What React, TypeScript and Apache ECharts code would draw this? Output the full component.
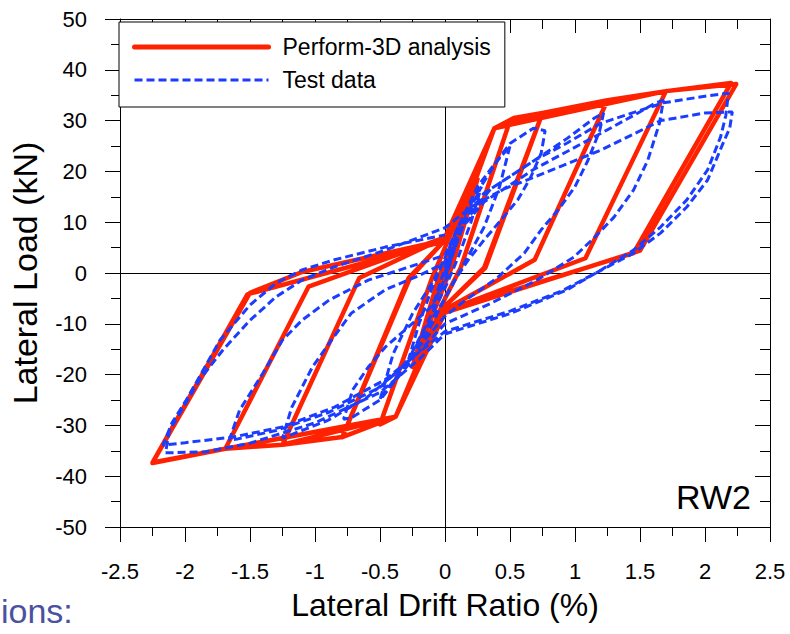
import React, { useEffect, useRef } from "react";
import * as echarts from "echarts";

// Axis ranges (drift %, load kN)
const xMin = -2.5;
const xMax = 2.5;
const xStep = 0.5;
const yMin = -50;
const yMax = 50;
const yStep = 10;

const seriesNames = ["Perform-3D analysis", "Test data"];

// Perform-3D analysis: [drift %, load kN] in load order
const analysisCurve: number[][] = [
  [0, 0], [0.15, 11], [0, 0.5], [-0.15, -11], [0, -0.5],
  [0.25, 18.5], [0.05, 1], [0, -2], [-0.25, -18.5], [-0.05, -1], [0, 2],
  [0.38, 28.5], [0.5, 30], [0.12, 1], [0, -5], [-0.38, -28.3], [-0.5, -29.8], [-0.1, -1], [0, 5],
  [0.38, 28.5], [0.53, 30.5], [0.75, 31.5], [0.3, 1], [0, -6.5], [-0.38, -28.3], [-0.79, -32.3], [-0.28, -1], [0, 6.5],
  [0.38, 28.5], [0.75, 31.5], [0.31, 1], [0, -6.5], [-0.38, -28.3], [-0.79, -32.3], [-0.27, -1], [0, 6.5],
  [0.38, 28.5], [0.75, 31.5], [1.25, 34], [0.69, 2.6], [0, -7.2], [-0.38, -28.3], [-0.79, -32.3], [-1.25, -33.8], [-0.66, -1], [0, 7],
  [0.38, 28.5], [1.25, 34], [1.7, 35.8], [1.08, 2.9], [0, -7.5], [-0.38, -28.3], [-1.25, -33.8], [-1.69, -34.6], [-1.05, -2.7], [0, 7],
  [0.38, 28.5], [1.7, 35.8], [2.2, 37.4], [1.45, 3.9], [0, -7.5], [-0.38, -28.3], [-1.69, -34.6], [-2.25, -37.4], [-1.5, -3.9], [-1.1, 0.2], [0, 6.5],
  [0.38, 28.5], [1.7, 35.8], [2.24, 37.2], [1.5, 4.4], [0, -7.8], [-0.38, -28.3], [-1.69, -34.6], [-2.25, -37.3], [-1.52, -4.2], [0, 6.3],
];

// Test data: [drift %, load kN] in load order
const testCurve: number[][] = [
  [0, 0], [0.05, 4], [0.1, 7], [0.05, 3], [0, -1], [-0.05, -4], [-0.1, -7], [-0.05, -3], [0, 1],
  [0.1, 8], [0.2, 13], [0.28, 17], [0.2, 10], [0.1, 3], [0, -3], [-0.1, -8], [-0.2, -13], [-0.28, -17], [-0.2, -10], [-0.1, -3], [0, 3],
  [0.1, 9], [0.25, 16], [0.4, 22], [0.5, 25], [0.42, 17], [0.3, 9], [0.15, 2], [0, -5], [-0.15, -11], [-0.3, -18], [-0.45, -23], [-0.5, -25], [-0.4, -16], [-0.25, -8], [-0.1, -2], [0, 3],
  [0.1, 9], [0.25, 17], [0.5, 25.5], [0.68, 28.5], [0.77, 28], [0.74, 23.6], [0.66, 18.9], [0.56, 14.4], [0.43, 10.4], [0.3, 6.5], [0.18, 2.6], [0.06, -2], [0, -5],
  [-0.1, -10], [-0.25, -17], [-0.5, -25], [-0.72, -28.5], [-0.78, -28.8], [-0.71, -23], [-0.59, -18.5], [-0.46, -14.6], [-0.28, -10.6], [-0.12, -7], [0, -2], [0.05, 3],
  [0.15, 10], [0.35, 16.5], [0.69, 22.2], [0.94, 26.5], [1.15, 30.5], [1.22, 31.5], [1.19, 28], [1.1, 22.2], [1.0, 17], [0.87, 12.4], [0.74, 8.5], [0.61, 3.9], [0.4, -1], [0.15, -5.5], [0, -8.5],
  [-0.15, -13], [-0.35, -19], [-0.6, -24.5], [-0.9, -29], [-1.2, -32], [-1.25, -32.5], [-1.18, -26.5], [-1.02, -18.5], [-0.89, -13.8], [-0.72, -7.9], [-0.46, -3.3], [-0.2, -0.5], [0, 2],
  [0.1, 8], [0.3, 14], [0.69, 20.5], [1.2, 27.5], [1.45, 31], [1.62, 33.5], [1.68, 34], [1.65, 29.5], [1.56, 22.2], [1.45, 16.3], [1.3, 11], [1.15, 7], [0.99, 3.1], [0.7, -1.5], [0.35, -6], [0, -10],
  [-0.2, -15.5], [-0.5, -22.5], [-0.9, -27.5], [-1.3, -31], [-1.6, -32.7], [-1.66, -32.9], [-1.58, -27], [-1.4, -19.7], [-1.25, -13.2], [-1.1, -9.3], [-0.89, -5.3], [-0.59, -1.4], [-0.3, 1], [0, 3.5],
  [0.1, 9], [0.3, 15.7], [0.69, 22.2], [0.94, 25.6], [1.2, 29.5], [1.68, 33.5], [2.0, 34.8], [2.18, 35.4], [2.16, 31], [2.12, 26.8], [2.02, 20.3], [1.86, 14.4], [1.66, 9.1], [1.45, 4.5], [1.2, 0.6], [0.94, -3.3], [0.5, -8], [0, -12],
  [-0.2, -17], [-0.5, -23.5], [-1.0, -29.5], [-1.5, -33.5], [-1.84, -35.2], [-2.15, -35.4], [-2.12, -31], [-2.04, -27.6], [-1.89, -21.1], [-1.71, -15.2], [-1.5, -9.3], [-1.3, -4.7], [-1.1, -1.4], [-0.85, 1.2], [-0.46, 4.5], [0, 8.9],
  [0.2, 13], [0.45, 16.5], [0.69, 18.9], [1.2, 24.2], [1.66, 30], [2.0, 31.5], [2.21, 31.7], [2.19, 28.5], [2.14, 25.6], [2.02, 18.3], [1.86, 13], [1.66, 7.9], [1.45, 3.9], [1.25, 1.2], [0.9, -3.5], [0.5, -7.5], [0, -11.5],
  [-0.18, -15.2], [-0.46, -21], [-0.85, -26.4], [-1.25, -30.3], [-1.63, -32.3], [-2.0, -33.4], [-2.17, -33.9], [-2.1, -29.5], [-1.99, -25], [-1.73, -13.2], [-1.5, -6.3], [-1.3, -2], [-1.1, 0.6], [-0.85, 2.6], [-0.46, 5.1], [0, 7.5],
];

const FONT = '"Liberation Sans", Arial, sans-serif';
const RED = "#ff2200";
const BLUE = "#1a3dff";

function baseAxis(extra: any) {
  return {
    type: "value",
    axisLine: { show: true, onZero: false, lineStyle: { color: "#000", width: 1 } },
    splitLine: { show: false },
    ...extra,
  };
}

export default function App() {
  const ref = useRef<HTMLDivElement>(null);
  useEffect(() => {
    const chart = echarts.init(ref.current!, null, { renderer: "svg" });
    const option: any = {
      animation: false,
      backgroundColor: "#fff",
      grid: { left: 117, right: 20, top: 19, bottom: 107, containLabel: false },
      legend: {
        orient: "vertical",
        left: 119,
        top: 22,
        padding: [12, 14, 14, 13],
        itemGap: 7,
        itemWidth: 134,
        itemHeight: 14,
        backgroundColor: "#fff",
        borderColor: "#000",
        borderWidth: 1,
        borderRadius: 0,
        itemStyle: { opacity: 0 },
        textStyle: { fontSize: 23, color: "#000", fontFamily: FONT, padding: [0, 0, 0, 9], lineHeight: 26 },
        data: [
          { name: seriesNames[0], itemStyle: { opacity: 0 }, lineStyle: { width: 5, color: RED, type: "solid" } },
          { name: seriesNames[1], itemStyle: { opacity: 0 }, lineStyle: { width: 3, color: BLUE, type: [8, 4] } },
        ],
      },
      xAxis: [
        baseAxis({
          min: xMin, max: xMax, interval: xStep, position: "bottom",
          name: "Lateral Drift Ratio (%)", nameLocation: "middle", nameGap: 62,
          nameTextStyle: { fontSize: 32, color: "#000", fontFamily: FONT },
          axisTick: { show: true, inside: false, length: 15, lineStyle: { color: "#000" } },
          minorTick: { show: true, splitNumber: 2, length: 9, lineStyle: { color: "#000" } },
          axisLabel: { show: true, margin: 33, fontSize: 22, color: "#000", fontFamily: FONT },
        }),
        baseAxis({
          min: xMin, max: xMax, interval: xStep, position: "top",
          axisTick: { show: true, inside: true, length: 14, lineStyle: { color: "#000" } },
          minorTick: { show: true, splitNumber: 2, length: 10, lineStyle: { color: "#000" } },
          axisLabel: { show: false },
        }),
      ],
      yAxis: [
        baseAxis({
          min: yMin, max: yMax, interval: yStep, position: "left",
          name: "Lateral Load (kN)", nameLocation: "middle", nameGap: 78,
          nameTextStyle: { fontSize: 34, color: "#000", fontFamily: FONT },
          axisTick: { show: true, inside: false, length: 15, lineStyle: { color: "#000" } },
          minorTick: { show: true, splitNumber: 2, length: 9, lineStyle: { color: "#000" } },
          axisLabel: { show: true, margin: 33, fontSize: 22, color: "#000", fontFamily: FONT },
        }),
        baseAxis({
          min: yMin, max: yMax, interval: yStep, position: "right",
          axisTick: { show: true, inside: true, length: 15, lineStyle: { color: "#000" } },
          minorTick: { show: true, splitNumber: 2, length: 10, lineStyle: { color: "#000" } },
          axisLabel: { show: false },
        }),
      ],
      series: [
        {
          name: seriesNames[0],
          type: "line",
          xAxisIndex: 0,
          yAxisIndex: 0,
          data: analysisCurve,
          showSymbol: false,
          symbol: "none",
          z: 3,
          lineStyle: { color: RED, width: 4.5, join: "round", cap: "round" },
          itemStyle: { color: RED },
          markLine: {
            silent: true,
            z: 1,
            symbol: ["none", "none"],
            label: { show: false },
            emphasis: { disabled: true },
            lineStyle: { color: "#000", width: 1, type: "solid" },
            data: [{ xAxis: 0 }, { yAxis: 0 }],
          },
        },
        {
          name: seriesNames[1],
          type: "line",
          xAxisIndex: 0,
          yAxisIndex: 0,
          data: testCurve,
          showSymbol: false,
          symbol: "none",
          z: 4,
          lineStyle: { color: BLUE, width: 3, type: [8, 4] },
          itemStyle: { color: BLUE },
        },
      ],
      graphic: [
        {
          type: "text",
          x: 676,
          y: 497,
          z: 10,
          style: { text: "RW2", font: `34px ${FONT}`, fill: "#000", verticalAlign: "middle" },
        },
        {
          type: "text",
          x: 1,
          y: 611,
          z: 10,
          style: { text: "ions:", font: `34px ${FONT}`, fill: "#4b51a0", verticalAlign: "middle" },
        },
      ],
    };
    chart.setOption(option);
    return () => chart.dispose();
  }, []);
  return (
    <div
      ref={ref}
      style={{ position: "fixed", left: 0, top: 0, width: 790, height: 634, background: "#fff" }}
    />
  );
}
